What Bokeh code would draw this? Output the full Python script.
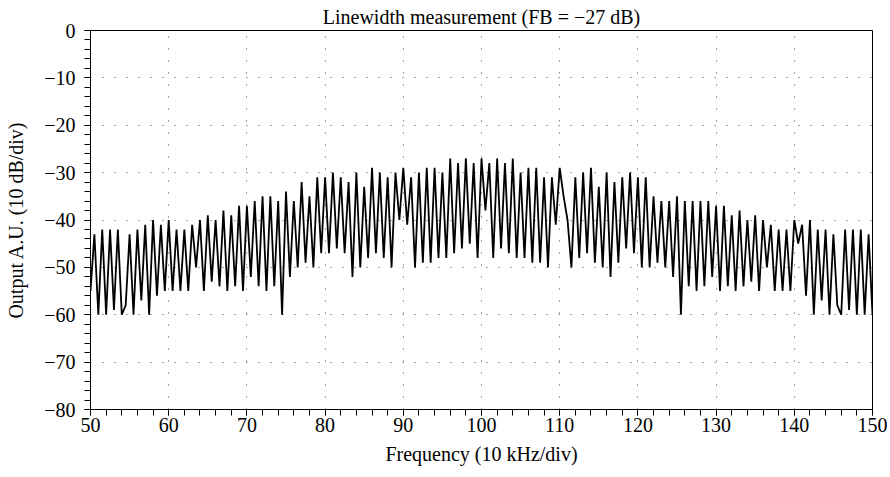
from bokeh.plotting import figure
from bokeh.models import Range1d, SingleIntervalTicker
from bokeh.embed import file_html
from bokeh.resources import INLINE

# Sampling grid (10 kHz/div), one sample every half division
freq_start = 50
freq_step = 0.5
output_db = [
    -55, -43, -60, -42, -60, -42, -59, -42, -60, -58,   # 50 - 54.5
    -43, -60, -42, -57, -41, -60, -40, -56, -41, -55,   # 55 - 59.5
    -40, -55, -42, -55, -42, -55, -41, -50, -40, -55,   # 60 - 64.5
    -39, -53, -40, -54, -38, -55, -39, -54, -37, -55,   # 65 - 69.5
    -37, -52, -36, -54, -35, -55, -35, -54, -36, -60,   # 70 - 74.5
    -34, -52, -36, -50, -32, -49, -35, -50, -31, -47,   # 75 - 79.5
    -31, -47, -30, -46, -31, -47, -32, -52, -30, -50,   # 80 - 84.5
    -33, -48, -29, -47, -30, -48, -31, -50, -30, -40,   # 85 - 89.5
    -29, -41, -31, -50, -30, -49, -29, -49, -29, -48,   # 90 - 94.5
    -30, -48, -27, -47, -28, -46, -27, -45, -28, -48,   # 95 - 99.5
    -27, -38, -28, -48, -27, -46, -28, -47, -27, -48,   # 100 - 104.5
    -30, -48, -29, -49, -29, -49, -31, -50, -31, -41,   # 105 - 109.5
    -29, -35, -40, -50, -31, -48, -30, -47, -29, -49,   # 110 - 114.5
    -33, -50, -30, -52, -32, -49, -31, -46, -30, -47,   # 115 - 119.5
    -31, -50, -31, -50, -35, -49, -36, -50, -36, -52,   # 120 - 124.5
    -35, -60, -36, -54, -36, -55, -36, -54, -36, -52,   # 125 - 129.5
    -37, -55, -37, -54, -39, -55, -38, -54, -40, -53,   # 130 - 134.5
    -39, -55, -40, -50, -41, -55, -42, -55, -42, -55,   # 135 - 139.5
    -40, -45, -41, -56, -40, -60, -42, -57, -42, -60,   # 140 - 144.5
    -43, -58, -60, -42, -59, -42, -60, -42, -60, -43,   # 145 - 149.5
    -60,                                                # 150
]
freq = [freq_start + freq_step * i for i in range(len(output_db))]

y_ticks = [0, -10, -20, -30, -40, -50, -60, -70, -80]
y_tick_labels = ["0", "\u221210", "\u221220", "\u221230", "\u221240",
                 "\u221250", "\u221260", "\u221270", "\u221280"]

title_text = "Linewidth measurement (FB = \u221227 dB)"
x_label = "Frequency (10 kHz/div)"
y_label = "Output A.U. (10 dB/div)"

FONT = "Liberation Serif"
FS = "20px"

p = figure(width=890, height=477, x_range=Range1d(50, 150), y_range=Range1d(-80, 0),
           output_backend="svg", toolbar_location=None, title=title_text)
p.min_border_left = 90
p.min_border_right = 18
p.min_border_top = 30
p.min_border_bottom = 68

p.title.align = "center"
p.title.text_font = FONT
p.title.text_font_size = FS
p.title.text_font_style = "normal"
p.title.text_color = "black"
p.title.standoff = 6

p.line(freq, output_db, line_color="black", line_width=1.8)

for ax in (p.xaxis[0], p.yaxis[0]):
    ax.major_label_text_font = FONT
    ax.major_label_text_font_size = FS
    ax.major_label_text_color = "black"
    ax.axis_label_text_font = FONT
    ax.axis_label_text_font_size = FS
    ax.axis_label_text_font_style = "normal"
    ax.axis_label_text_color = "black"
    ax.axis_line_color = "black"
    ax.axis_line_width = 1
    ax.major_tick_line_color = "black"
    ax.minor_tick_line_color = "black"
    ax.major_tick_in = 0
    ax.major_tick_out = 6
    ax.minor_tick_in = 0
    ax.minor_tick_out = 6

p.xaxis.ticker = SingleIntervalTicker(interval=10, num_minor_ticks=5)
p.yaxis.ticker = SingleIntervalTicker(interval=10, num_minor_ticks=5)
p.yaxis.major_label_overrides = {t: l for t, l in zip(y_ticks, y_tick_labels)}
p.xaxis.major_label_standoff = 2
p.yaxis.major_label_standoff = 9
p.xaxis.axis_label_standoff = 8
p.yaxis.axis_label_standoff = 14
p.xaxis.axis_label = x_label
p.yaxis.axis_label = y_label

for g in (p.xgrid[0], p.ygrid[0]):
    g.grid_line_color = "#444444"
    g.grid_line_dash = "1 11"
    g.grid_line_width = 1

p.outline_line_color = "black"
p.outline_line_width = 1
p.outline_line_alpha = 1
p.background_fill_color = "white"
p.border_fill_color = "white"

open("out.html", "w").write(file_html(p, INLINE))
